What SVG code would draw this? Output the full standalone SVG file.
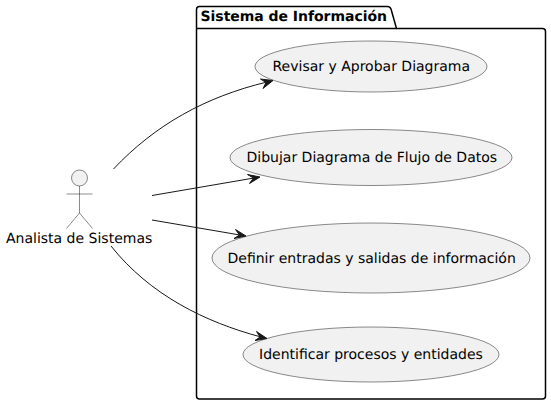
<svg xmlns="http://www.w3.org/2000/svg" width="551" height="405" viewBox="0 0 551 405">
<style>
text{font-family:"DejaVu Sans",sans-serif;font-size:14px;fill:#000;text-rendering:geometricPrecision}
.uc{fill:#f1f1f1;stroke:#181818;stroke-width:.5}
.e{fill:none;stroke:#181818;stroke-width:1}
.h{fill:#181818;stroke:#181818;stroke-width:1}
</style>
<rect width="551" height="405" fill="#fff"/>
<g id="package">
<path d="M199.500 6.500H387.500Q390 6.500 391 9L396.500 28.500H542.500Q545.500 28.500 545.500 31.500V396Q545.500 399 542.500 399H199.500Q196.500 399 196.500 396V9.500Q196.500 6.500 199.500 6.500Z" fill="#fff" stroke="#000" stroke-width="1.500"/>
<path d="M196.500 28.500H396.500" fill="none" stroke="#000" stroke-width="1.500"/>
<text x="200.500" y="21" textLength="186.500" style="font-weight:bold">Sistema de Información</text>
</g>
<g id="actor">
<circle cx="79.500" cy="178" r="8" fill="#f1f1f1" stroke="#181818" stroke-width=".5"/>
<path d="M79.500 186V213M66.500 194H92.500M79.500 213L66.500 228.500M79.500 213L92.500 228.500" fill="none" stroke="#181818" stroke-width=".5"/>
<text x="6" y="243">Analista de Sistemas</text>
</g>
<g id="uc1"><ellipse class="uc" cx="371" cy="66.500" rx="116" ry="25.500"/><text x="272.500" y="70.500">Revisar y Aprobar Diagrama</text></g>
<g id="uc2"><ellipse class="uc" cx="371" cy="157.500" rx="141" ry="28"/><text x="246.500" y="162">Dibujar Diagrama de Flujo de Datos</text></g>
<g id="uc3"><ellipse class="uc" cx="371" cy="258" rx="159" ry="35"/><text x="227.500" y="262.500">Definir entradas y salidas de información</text></g>
<g id="uc4"><ellipse class="uc" cx="371" cy="354.500" rx="128" ry="27.500"/><text x="259" y="358.500">Identificar procesos y entidades</text></g>
<g id="connectors">
<path class="e" d="M113.500 169C155 125 205 97 267 82"/>
<path class="h" d="M273 80.500L263 88.500L266 82.500L260.500 79Z"/>
<path class="e" d="M152 195.500L254 178"/>
<path class="h" d="M260 177L249.500 183.500L253.500 178L247.500 174.500Z"/>
<path class="e" d="M152 220L240 235"/>
<path class="h" d="M246 236L234 238.500L239.500 235L235.500 229.500Z"/>
<path class="e" d="M111 246C150 295 205 322 261 337"/>
<path class="h" d="M267 338.500L255 340.500L260 337L256.500 331.500Z"/>
</g>
</svg>
